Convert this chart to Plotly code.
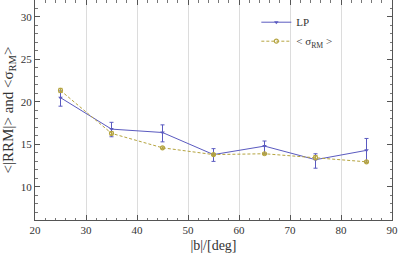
import plotly.graph_objects as go

b_deg = [25, 35, 45, 55, 65, 75, 85]
lp_vals = [20.5, 16.8, 16.4, 13.8, 14.8, 13.2, 14.3]
lp_err_plus = [0.8, 0.8, 0.9, 0.7, 0.6, 0.7, 1.4]
lp_err_minus = [1.0, 0.9, 1.1, 0.8, 0.9, 1.0, 1.4]
sig_vals = [21.35, 16.3, 14.6, 13.8, 13.9, 13.45, 12.95]
sig_err = [0.25, 0.2, 0.1, 0.1, 0.1, 0.25, 0.1]

blue = "#5a5ac0"
olive = "#b5a440"
serif = "Times New Roman, serif"

fig = go.Figure()
fig.add_trace(go.Scatter(
    x=b_deg, y=lp_vals, name="LP", mode="lines+markers",
    line=dict(color=blue, width=1),
    marker=dict(symbol="triangle-down", size=4, color=blue),
    error_y=dict(type="data", array=lp_err_plus, arrayminus=lp_err_minus,
                 color=blue, thickness=1, width=2),
))
fig.add_trace(go.Scatter(
    x=b_deg, y=sig_vals, name="&lt; σ<sub>RM</sub> &gt;", mode="lines+markers",
    line=dict(color=olive, width=1, dash="3px,2px"),
    marker=dict(symbol="circle-open", size=4, color=olive, line=dict(width=1.2)),
    error_y=dict(type="data", array=sig_err, color=olive, thickness=1, width=2),
))

axis_common = dict(
    showline=True, linecolor="#555555", linewidth=1, mirror="allticks",
    ticks="inside", ticklen=5, tickcolor="#555555", zeroline=False,
    automargin=False,
    tickfont=dict(family=serif, size=11, color="#333333"),
)
fig.update_xaxes(
    range=[20, 90], dtick=10, showgrid=True, gridcolor="#dcdcdc", gridwidth=1.2,
    minor=dict(ticks="inside", ticklen=2.5, dtick=2, tickcolor="#777777", showgrid=False),
    title=dict(text="|b|/[deg]", font=dict(family=serif, size=14, color="#333333"), standoff=4),
    **axis_common,
)
fig.update_yaxes(
    range=[6.1, 32], dtick=5, showgrid=False,
    minor=dict(ticks="inside", ticklen=2.5, dtick=1, tickcolor="#777777"),
    title=dict(text="&lt;|RRM|&gt; and &lt;σ<sub>RM</sub>&gt;", font=dict(family=serif, size=15, color="#333333"), standoff=4),
    **axis_common,
)
fig.update_layout(
    width=399, height=258,
    margin=dict(l=35, r=7, t=0, b=38),
    plot_bgcolor="white", paper_bgcolor="white",
    font=dict(family=serif),
    legend=dict(x=0.62, y=0.965, xanchor="left", yanchor="top",
                bgcolor="rgba(0,0,0,0)",
                font=dict(family=serif, size=11, color="#333333"),
                tracegroupgap=0, itemwidth=30),
)
fig.write_html("out.html", config={"displayModeBar": False},
               post_script="document.body.style.margin='0';document.body.style.overflow='hidden';")
